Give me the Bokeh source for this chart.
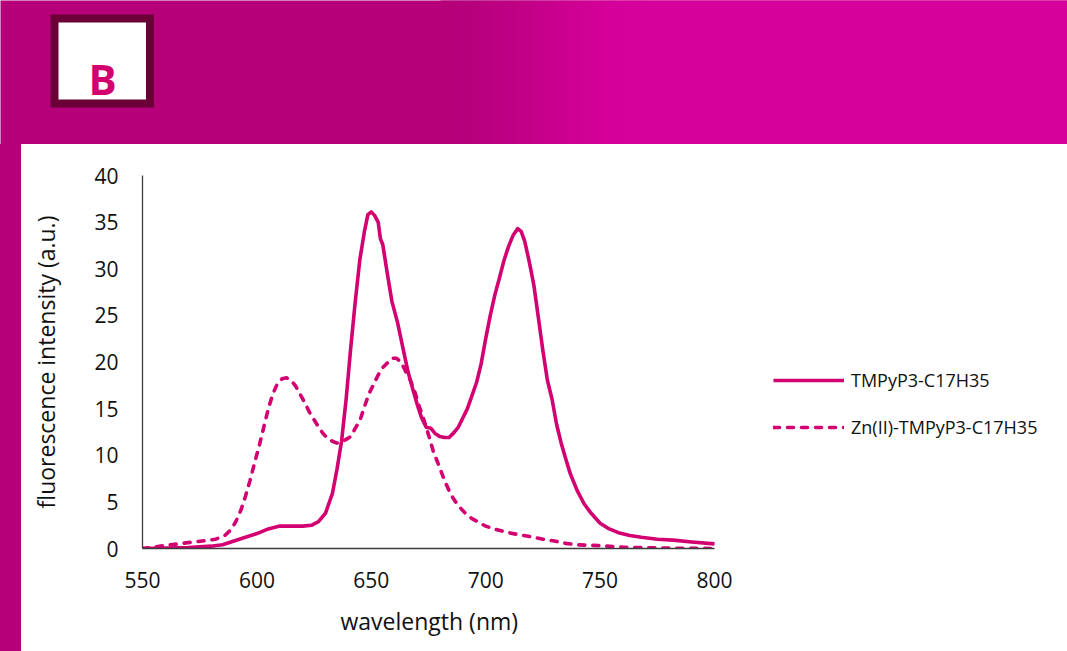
from bokeh.plotting import figure
from bokeh.layouts import column, row
from bokeh.models import Range1d, FixedTicker, Legend, LegendItem, ColumnDataSource, Div, Title
from bokeh.core.properties import value
from bokeh.embed import file_html
from bokeh.resources import INLINE

# ---------------- data ----------------
series_names = ["TMPyP3-C17H35", "Zn(II)-TMPyP3-C17H35"]
x_title = "wavelength (nm)"
y_title = "fluorescence intensity (a.u.)"

wl_free = [550, 560, 570, 580, 585, 590, 595, 600, 605, 610, 615, 620, 624, 627, 630, 633, 635,
           637, 639, 641, 643, 645, 647, 648.5, 650, 651.5, 653, 654, 655, 657, 659, 661.5, 664,
           666, 668, 670, 672, 674, 676, 678, 680, 682, 684, 686, 688, 690, 692, 694, 696, 698,
           700, 702, 704, 706, 708, 710, 712, 714, 715.5, 717, 719, 721, 723, 725, 727, 729, 731,
           733, 735, 737, 740, 743, 746, 750, 754, 758, 763, 768, 775, 782, 790, 800]
int_free = [0.0, 0.05, 0.1, 0.25, 0.4, 0.8, 1.2, 1.6, 2.1, 2.4, 2.4, 2.4, 2.5, 2.9, 3.8, 5.9, 8.5,
            11.5, 16.0, 21.5, 26.5, 31.0, 34.0, 35.8, 36.1, 35.7, 35.0, 33.2, 32.6, 29.5, 26.5, 24.2,
            21.3, 19.0, 17.2, 15.5, 14.0, 13.0, 12.9, 12.3, 12.0, 11.9, 11.9, 12.4, 13.0, 14.0, 15.0,
            16.4, 17.8, 19.8, 22.5, 25.0, 27.2, 29.0, 30.9, 32.4, 33.6, 34.3, 34.0, 33.0, 30.8, 28.3,
            24.8, 21.2, 18.0, 16.0, 13.3, 11.3, 9.6, 8.0, 6.2, 4.8, 3.8, 2.7, 2.1, 1.7, 1.4, 1.2,
            1.0, 0.9, 0.7, 0.5]

wl_zn = [550, 555, 559, 564, 569, 574, 578, 582, 586, 589, 591, 593, 595, 597, 599, 601, 603, 605,
         607, 609, 611, 613, 615, 617, 619, 621, 623, 625, 627, 629, 631, 633, 635, 637, 639, 641,
         643, 645, 647, 649, 651, 653, 655, 657, 659, 661, 663, 665, 667, 669, 671, 673, 675, 677,
         680, 682, 684, 686, 688, 691, 694, 697, 700, 705, 710, 715, 720, 725, 730, 735, 740, 750,
         760, 770, 780, 800]
int_zn = [0.0, 0.15, 0.3, 0.45, 0.6, 0.75, 0.85, 1.0, 1.4, 2.1, 3.0, 4.1, 5.6, 7.3, 9.2, 11.0, 13.0,
          15.0, 16.6, 17.7, 18.2, 18.3, 18.0, 17.4, 16.5, 15.6, 14.6, 13.8, 13.0, 12.3, 11.8, 11.5,
          11.3, 11.4, 11.7, 12.0, 12.9, 13.7, 15.2, 16.6, 17.6, 18.6, 19.4, 19.9, 20.4, 20.4, 20.0,
          19.0, 18.1, 16.8, 15.2, 13.8, 12.2, 10.5, 8.6, 7.3, 6.2, 5.3, 4.6, 3.8, 3.2, 2.8, 2.4, 2.0,
          1.7, 1.45, 1.25, 1.0, 0.8, 0.55, 0.4, 0.3, 0.15, 0.08, 0.04, 0.0]

x_ticks = [550, 600, 650, 700, 750, 800]
y_ticks = [0, 5, 10, 15, 20, 25, 30, 35, 40]

# ---------------- styles / layout ----------------
FONT = "Open Sans"
LINE_COLOR = "#D20070"
DARK_MAGENTA = "#B5007A"
TEXT_COLOR = "#111111"

PAGE_W, PAGE_H = 1067, 651
BANNER_H = 144
STRIP_W = 21
FRAME_L, FRAME_R_AXIS, FRAME_T, FRAME_B = 142, 714, 175, 548   # page pixels
X_MIN, X_MAX = x_ticks[0], x_ticks[-1]
px_per_unit = (FRAME_R_AXIS - FRAME_L) / (X_MAX - X_MIN)
x_view_end = X_MIN + (PAGE_W - FRAME_L) / px_per_unit   # frame extends to the page edge

# ---------------- banner ----------------
banner = figure(width=PAGE_W, height=BANNER_H, x_range=Range1d(0, PAGE_W),
                y_range=Range1d(BANNER_H, 0), x_axis_location=None, y_axis_location=None,
                toolbar_location=None, output_backend="svg", min_border=0, margin=0)
banner.grid.visible = False
banner.outline_line_color = None
banner.background_fill_color = DARK_MAGENTA
banner.border_fill_color = DARK_MAGENTA

c0 = (181, 0, 122)
c1 = (214, 0, 155)
g_left, g_right = 440, 640
step = 5
lefts, rights, cols = [], [], []
xx = g_left
while xx < g_right:
    t = (xx + step / 2 - g_left) / (g_right - g_left)
    t = t * t * (3 - 2 * t)
    col = tuple(int(round(a + (b - a) * t)) for a, b in zip(c0, c1))
    lefts.append(xx)
    rights.append(xx + step + 0.5)
    cols.append("#%02x%02x%02x" % col)
    xx += step
lefts.append(g_right)
rights.append(PAGE_W + 1)
cols.append("#%02x%02x%02x" % c1)
banner.quad(left=lefts, right=rights, top=[-1] * len(lefts), bottom=[BANNER_H + 1] * len(lefts),
            fill_color=cols, line_color=None)

banner.quad(left=[50], right=[153.5], top=[14], bottom=[107], fill_color="#6B0036", line_color=None)
banner.quad(left=[58], right=[145.5], top=[22], bottom=[99], fill_color="white", line_color=None)
banner.text(x=[102], y=[78], text=["B"], text_align="center", text_baseline="alphabetic",
            text_font=value(FONT), text_font_style="bold", text_font_size="42px",
            text_color="#D2006F")

# ---------------- left strip ----------------
strip = Div(text="", width=STRIP_W, height=PAGE_H - BANNER_H, margin=0,
            styles={"background-color": DARK_MAGENTA})

# ---------------- main chart ----------------
p = figure(width=PAGE_W - STRIP_W, height=PAGE_H - BANNER_H,
           x_range=Range1d(X_MIN, x_view_end), y_range=Range1d(y_ticks[0], y_ticks[-1]),
           toolbar_location=None, output_backend="svg", margin=0,
           min_border_left=FRAME_L - STRIP_W, min_border_right=0,
           min_border_top=FRAME_T - BANNER_H, min_border_bottom=PAGE_H - FRAME_B)
p.grid.visible = False
p.outline_line_color = None
p.background_fill_color = "white"
p.border_fill_color = "white"

src_free = ColumnDataSource(dict(x=wl_free, y=int_free))
src_zn = ColumnDataSource(dict(x=wl_zn, y=int_zn))
r_zn = p.line("x", "y", source=src_zn, line_color=LINE_COLOR, line_width=3.6,
              line_dash="6 8", line_cap="round", line_join="round")
r_free = p.line("x", "y", source=src_free, line_color=LINE_COLOR, line_width=3.6,
                line_join="round")

p.xaxis.ticker = FixedTicker(ticks=x_ticks)
p.yaxis.ticker = FixedTicker(ticks=y_ticks)
p.xaxis.bounds = (X_MIN, X_MAX)
for ax in (p.xaxis[0], p.yaxis[0]):
    ax.major_tick_in = 0
    ax.major_tick_out = 0
    ax.minor_tick_in = 0
    ax.minor_tick_out = 0
    ax.axis_line_color = "#3c3c3c"
    ax.axis_line_width = 1.3
    ax.major_label_text_font = FONT
    ax.major_label_text_font_size = "21px"
    ax.major_label_text_color = TEXT_COLOR
    ax.axis_label_text_font = FONT
    ax.axis_label_text_font_size = "23px"
    ax.axis_label_text_font_style = "normal"
    ax.axis_label_text_color = TEXT_COLOR

p.yaxis.axis_label = y_title
p.xaxis.major_label_standoff = 23
p.yaxis.major_label_standoff = 24
p.yaxis.axis_label_standoff = 29

# x-axis title: centred under the axis span (the frame itself runs on to hold the legend)
x_title_width = 176
x_center_px = (FRAME_L + FRAME_R_AXIS) / 2
p.add_layout(Title(text=x_title, align="left", offset=x_center_px - x_title_width / 2 - FRAME_L,
                   text_font=FONT, text_font_size="23px", text_font_style="normal",
                   text_color=TEXT_COLOR, standoff=25), "below")

legend = Legend(items=[LegendItem(label=series_names[0], renderers=[r_free]),
                       LegendItem(label=series_names[1], renderers=[r_zn])],
                location=(773 - FRAME_L, FRAME_B - 439), padding=0, margin=0, spacing=23,
                glyph_width=71, glyph_height=22, label_height=22, label_standoff=7,
                label_text_font=FONT, label_text_font_size="18px",
                label_text_color=TEXT_COLOR,
                border_line_alpha=0, background_fill_alpha=0)
p.add_layout(legend)

layout = column(banner, row(strip, p, spacing=0), spacing=0)

open("out.html", "w").write(file_html(layout, INLINE))
